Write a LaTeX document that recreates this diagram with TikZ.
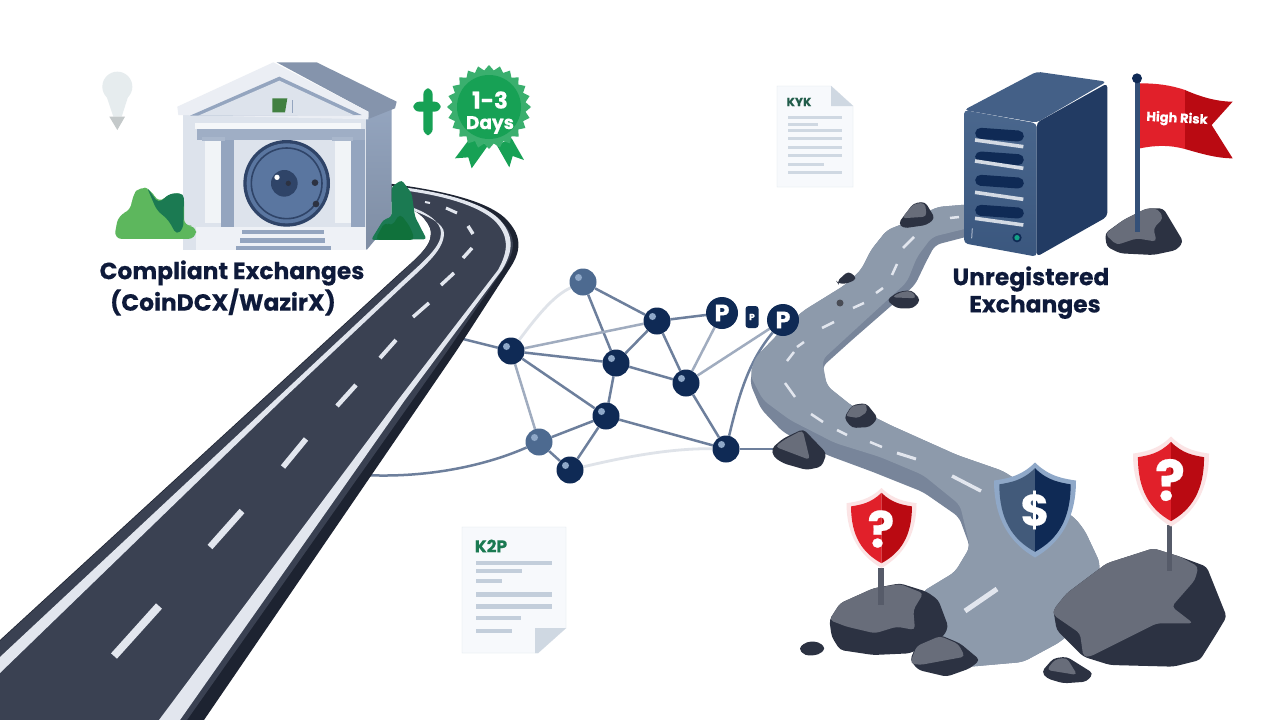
\documentclass[tikz,border=0pt]{standalone}
\usepackage{fontspec}
\setmainfont{Poppins}[BoldFeatures={FakeBold=0.35}]
\usepackage{xcolor}
\usepackage{tikz}
\usetikzlibrary{shapes,positioning,backgrounds,calc}
\definecolor{ink}{HTML}{0E1A3A}
\definecolor{asphalt}{HTML}{3A4152}
\definecolor{asphaltedge}{HTML}{1D2331}
\definecolor{paint}{HTML}{E2E6EE}
\definecolor{gravel}{HTML}{8D9AAB}
\definecolor{graveledge}{HTML}{78859A}
\definecolor{navy}{HTML}{0F2A55}
\definecolor{steel}{HTML}{4D6A90}
\definecolor{glint}{HTML}{8FA8C8}
\definecolor{linkcol}{HTML}{6D7F9C}
\definecolor{rockdark}{HTML}{2C3242}
\definecolor{rockgrey}{HTML}{686D7A}
\definecolor{badgegreen}{HTML}{17A155}
\definecolor{bushlight}{HTML}{5DB75D}
\definecolor{bushdark}{HTML}{1B7A52}
\definecolor{wall}{HTML}{DDE3EC}
\definecolor{wallblue}{HTML}{94A5BF}
\definecolor{vaultrim}{HTML}{2F4468}
\definecolor{vaultface}{HTML}{5A76A0}
\definecolor{bulbcol}{HTML}{E6ECEE}
\definecolor{redlight}{HTML}{E1202A}
\definecolor{reddark}{HTML}{BA0A12}
\definecolor{paper}{HTML}{F7F9FC}
\definecolor{paperline}{HTML}{C3CEDB}
\tikzstyle{ball} = [circle, fill=navy, minimum size=27pt, inner sep=0pt, path picture={\fill[glint] ($(path picture bounding box.center)+(-4.5,-4.5)$) circle (3.5);}]
\tikzstyle{paleball} = [ball, fill=steel]
\tikzstyle{pnode} = [circle, fill=navy, text=white, minimum size=32pt, inner sep=0pt, font=\bfseries\fontsize{24}{24}\selectfont]
\tikzstyle{link} = [linkcol, line width=2.5pt]
\tikzstyle{softlink} = [link, color=linkcol!65]
\tikzstyle{faintlink} = [link, color=linkcol!22, line width=2.8pt]
\tikzstyle{heading} = [text=ink, font=\bfseries\fontsize{23.4}{23.4}\selectfont, inner sep=0pt]
\tikzstyle{rock} = [fill=rockdark, rounded corners=4pt]
\tikzstyle{rocktop} = [fill=rockgrey, rounded corners=4pt]
\tikzstyle{zoomA} = [shift={(90,50)}, x=0.33333pt, y=-0.33333pt]
\tikzstyle{zoomC} = [shift={(770,60)}, x=0.33333pt, y=-0.33333pt]
\tikzstyle{zoomD} = [shift={(790,420)}, x=0.33333pt, y=-0.33333pt]
\newcommand{\shieldicon}[7]{
  \begin{scope}[shift={(#1,#2)}, x=#3pt, y=-#4pt]
    \fill[#5] (0,0) .. controls (.35,.15) and (.7,.17) .. (1,.19) .. controls (1,.6) and (.6,.85) .. (0,1) .. controls (-.6,.85) and (-1,.6) .. (-1,.19) .. controls (-.7,.17) and (-.35,.15) .. (0,0) -- cycle;
    \fill[#6] (0,.06) .. controls (-.3,.19) and (-.6,.21) .. (-.87,.23) .. controls (-.87,.6) and (-.55,.81) .. (0,.94) -- cycle;
    \fill[#7] (0,.06) .. controls (.3,.19) and (.6,.21) .. (.87,.23) .. controls (.87,.6) and (.55,.81) .. (0,.94) -- cycle;
  \end{scope}
}
\begin{document}
\begin{tikzpicture}[x=1pt, y=-1pt]
    \useasboundingbox (0,0) rectangle (1280,720);

    % Paved road
    \fill[asphaltedge] (0,640) -- (400,273) .. controls (420,255) and (435,243) .. (430,228) .. controls (425,215) and (410,205) .. (385,200) -- (385,183) .. controls (440,190) and (485,200) .. (505,218) .. controls (522,235) and (522,250) .. (510,268) -- (457,350) -- (204,720) -- (0,720) -- cycle;
    \fill[asphalt] (0,641) -- (400,274) .. controls (420,255) and (435,243) .. (430,228) .. controls (425,215) and (410,205) .. (385,200) -- (385,186) .. controls (440,193) and (482,203) .. (500,220) .. controls (517,236) and (516,250) .. (504,268) -- (448,350) -- (187,720) -- (0,720) -- cycle;
    \fill[paint] (392,186) .. controls (440,191) and (482,202) .. (499,219) .. controls (514,235) and (514,250) .. (502,270) -- (405,400) -- (180,720) -- (159,720) -- (398,400) -- (498,270) .. controls (509,250) and (509,236) .. (495,221) .. controls (478,205) and (440,194) .. (392,189) -- cycle;
    \fill[paint] (0,657) -- (275,400) -- (400,283) .. controls (425,260) and (441,247) .. (441,233) .. controls (441,222) and (428,212) .. (405,205) -- (405,208) .. controls (428,215) and (444,224) .. (444,233) .. controls (444,249) and (428,263) .. (403,286) -- (282,400) -- (0,673) -- cycle;
    \foreach \xa/\ya/\xb/\yb/\wd in {159/606/114/656/8, 242/511/210/547/6.5, 306/439/283/467/5.5, 356/385/337/406/4.5, 396/340/380/358/4, 429/303/413/317/3.5, 454/273/441/285/3.5, 472/248/463/258/3.5, 473/234/468/226/3.5, 457/213/446/208/3, 430/203/425/202/2}
        \draw[paint, line width=\wd pt] (\xa,\ya) -- (\xb,\yb);

    % Bank
    \begin{scope}[zoomA]
        \fill[wall] (280,195) rectangle (830,600);
        \shade[top color=wallblue, bottom color=wallblue!85!black] (830,205) -- (905,170) -- (905,510) -- (830,600) -- cycle;
        \fill[wallblue!90!black] (560,37) -- (680,37) -- (920,155) -- (915,175) -- (835,207) -- (835,185) -- cycle;
        \fill[wall!60!white] (262,170) -- (550,37) -- (835,185) -- (835,208) -- (265,195) -- cycle;
        \fill[wallblue] (300,197) -- (568,80) -- (815,195) -- cycle;
        \fill[wall] (325,197) -- (568,92) -- (795,197) -- cycle;
        \fill[white!70!wall] (315,218) rectangle (812,238);
        \fill[wallblue!90!white] (320,238) rectangle (825,270);
        \fill[wallblue] (392,270) rectangle (432,530);
        \fill[wallblue] (782,270) rectangle (825,530);
        \fill[wall] (432,272) rectangle (735,530);
        \fill[white!60!wall] (345,268) rectangle (392,520);
        \fill[white!60!wall] (735,268) rectangle (782,520);
        \fill[wallblue!80!white] (335,260) rectangle (405,272);
        \fill[wallblue!80!white] (725,260) rectangle (790,272);
        \fill[white!50!wall] (318,530) rectangle (828,600);
        \fill[wallblue] (455,540) rectangle (702,553);
        \fill[wallblue] (450,565) rectangle (705,578);
        \fill[wallblue] (437,587) rectangle (722,600);
        \fill[bushlight!70!black] (547,145) -- (592,145) -- (585,187) -- (547,187) -- cycle;
        \fill[wallblue] (605,150) rectangle (608,190);
        % Vault door
        \fill[vaultrim] (590,400) circle (130);
        \fill[vaultface] (590,400) circle (120);
        \draw[vaultrim, line width=1.6pt] (590,400) circle (106);
        \fill[vaultrim] (583,400) circle (40);
        \fill[white] (561,382) circle (8);
        \fill[rockdark] (595,400) circle (8);
        \fill[rockdark] (675,398) circle (10);
        \fill[rockdark] (678,462) circle (10);
        % Bushes
        \fill[bushlight, rounded corners=8pt] (72,567) -- (85,495) -- (125,480) -- (125,440) -- (150,408) -- (185,420) -- (205,460) -- (240,430) -- (282,430) -- (282,530) -- (318,525) -- (318,567) -- cycle;
        \fill[bushdark, rounded corners=5pt] (170,410) -- (205,460) -- (240,430) -- (282,430) -- (280,535) -- (260,555) -- (235,510) -- (200,480) -- cycle;
        \fill[bushdark, rounded corners=3pt] (905,410) -- (935,390) -- (965,430) -- (975,500) -- (1010,568) -- (843,570) -- (880,510) -- (905,500) -- cycle;
        \fill[badgegreen!70!black, rounded corners=5pt] (855,570) -- (885,515) -- (905,530) -- (930,490) -- (960,530) -- (975,570) -- cycle;
        % Bulb
        \fill[bulbcol] (82,110) circle (45);
        \fill[bulbcol] (45,125) -- (119,125) -- (95,200) -- (70,200) -- cycle;
        \fill[bulbcol!85!black] (58,200) -- (105,200) -- (82,240) -- cycle;
        % Badge
        \fill[badgegreen, rounded corners=6pt] (1000,115) rectangle (1028,255);
        \fill[badgegreen, rounded corners=6pt] (970,155) rectangle (1052,185);
        \fill[badgegreen] (1140,265) -- (1095,325) -- (1135,322) -- (1145,355) -- (1195,285) -- cycle;
        \fill[badgegreen] (1220,285) -- (1258,352) -- (1268,318) -- (1302,330) -- (1265,265) -- cycle;
    \end{scope}
    \node[star, star points=24, star point ratio=1.14, fill=badgegreen!85!white, minimum size=84pt, inner sep=0pt] (seal) at (489,107) {};
    \node[circle, fill=badgegreen, minimum size=64pt, inner sep=0pt] (sealface) at (489,107) {};
    \node[text=white, font=\bfseries\fontsize{23}{23}\selectfont, inner sep=0pt] (sealnum) at (490,100) {1-3};
    \node[text=white, font=\bfseries\fontsize{18.5}{18.5}\selectfont, inner sep=0pt] (sealdays) at (490,125) {Days};
    \node[heading] (bankname) at (232,273) {Compliant Exchanges};
    \node[heading] (banktype) at (223,302) {(CoinDCX/WazirX)};

    % Gravel road
    \fill[graveledge, rounded corners=6pt] (985,203) -- (937,207) -- (913,220) -- (887,230) -- (871,250) -- (861,270) -- (845,285) -- (803,311) -- (781,331) -- (755,358) -- (750,383) -- (761,409) -- (783,432) -- (827,455) -- (873,472) -- (923,492) -- (959,517) -- (970,547) -- (955,572) -- (922,592) -- (955,668) -- (1023,662) -- (1060,642) -- (1094,612) -- (1100,563) -- (1085,531) -- (1075,518) -- (1003,471) -- (957,455) -- (890,425) -- (852,406) -- (827,386) -- (822,367) -- (852,340) -- (915,285) -- (926,262) -- (935,245) -- (985,232) -- cycle;
    \fill[gravel, rounded corners=6pt] (985,203) -- (937,207) -- (913,220) -- (887,230) -- (871,250) -- (861,270) -- (845,285) -- (803,311) -- (781,331) -- (755,358) -- (750,375) -- (763,400) -- (790,420) -- (835,443) -- (880,457) -- (923,475) -- (960,505) -- (970,547) -- (955,572) -- (922,592) -- (955,668) -- (1023,662) -- (1060,642) -- (1094,612) -- (1100,563) -- (1085,531) -- (1075,518) -- (1003,471) -- (957,455) -- (890,425) -- (852,406) -- (827,386) -- (822,360) -- (847,337) -- (907,282) -- (917,257) -- (932,237) -- (985,224) -- cycle;
    \foreach \xa/\ya/\xb/\yb/\wd in {950/218/959/217/2.5, 903/248/914/237/2.5, 892/275/897/264/2.5, 876/293/883/288/2.5, 853/308/864/303/2.5, 822/328/834/322/2.5, 797/347/804/342/2.5, 787/361/794/352/2.5, 785/383/795/397/2.5, 811/414/823/422/2.5, 837/430/847/435/2.5, 870/442/882/447/2.5, 897/453/916/459/3, 952/476/981/491/3.5, 965/611/997/589/5}
        \draw[paint, line width=\wd pt] (\xa,\ya) -- (\xb,\yb);
    \fill[rockgrey!70!black] (840,303) circle (3.5);
    \fill[rock] (844,418) -- (852,405) -- (866,403) -- (878,418) -- (870,427) -- (852,428) -- cycle;
    \fill[rocktop, rounded corners=2pt] (846,416) -- (852,406) -- (866,404) -- (867,412) -- (858,418) -- cycle;

    % Upper rocks, server and flag
    \begin{scope}[zoomC]
        \fill[rock] (385,490) -- (430,430) -- (465,425) -- (495,475) -- (470,495) -- (400,505) -- cycle;
        \fill[rocktop] (395,475) -- (430,432) -- (465,428) -- (470,470) -- cycle;
        \fill[rock] (200,665) -- (235,633) -- (262,655) -- (235,670) -- (205,672) -- cycle;
        \fill[rock] (350,720) -- (385,695) -- (425,690) -- (452,720) -- (430,745) -- (380,745) -- cycle;
        \fill[rocktop] (365,712) -- (390,697) -- (425,692) -- (440,715) -- cycle;
        \shade[top color=steel!95!navy, bottom color=steel!70!navy, rounded corners=4pt] (582,150) -- (800,190) -- (800,590) -- (582,550) -- cycle;
        \fill[steel!85!navy, rounded corners=4pt] (582,150) -- (800,35) -- (1010,65) -- (800,188) -- cycle;
        \fill[navy!92!white, rounded corners=4pt] (800,188) -- (1012,70) -- (1012,470) -- (800,590) -- cycle;
        \foreach \ya/\yb/\yc in {224/240/260, 295/303/325, 365/397/418, 455/475/495} {
            \draw[navy, line width=11pt, line cap=round] (632,\ya-4) -- (745,\ya+4);
            \draw[paint!90!steel, line width=3.6pt] (615,\yb) -- (760,\yc);
        }
        \fill[navy] (741,533) circle (14);
        \fill[bushdark!70!cyan] (741,533) circle (8);
        \draw[paint!60!steel, line width=1pt] (607,505) -- (605,535);
        % Flag
        \fill[rock] (1005,520) -- (1060,480) -- (1130,445) -- (1180,445) -- (1240,545) -- (1220,570) -- (1150,585) -- (1050,580) -- (1010,560) -- cycle;
        \fill[rocktop] (1005,522) -- (1060,480) -- (1130,445) -- (1165,447) -- (1180,475) -- (1150,505) -- (1160,545) -- (1100,535) -- (1040,555) -- cycle;
        \fill[redlight] (1110,70) .. controls (1160,70) and (1200,75) .. (1245,90) -- (1245,267) .. controls (1200,255) and (1160,255) .. (1110,265) -- cycle;
        \fill[reddark] (1245,90) .. controls (1290,110) and (1340,125) .. (1388,125) -- (1325,195) -- (1388,295) .. controls (1340,295) and (1290,280) .. (1245,267) -- cycle;
        \draw[steel!60!navy, line width=5pt] (1103,55) -- (1103,515);
        \fill[navy] (1101,55) circle (15);
    \end{scope}
    \node[text=white, font=\bfseries\fontsize{13}{13}\selectfont, inner sep=0pt, rotate=-3] (flagtext) at (1177,119) {High Risk};
    \node[heading] (srvname) at (1031,279) {Unregistered};
    \node[heading] (srvtype) at (1035,307) {Exchanges};

    % Lower rocks and shields
    \begin{scope}[zoomD]
        \fill[rock] (118,600) -- (150,550) -- (250,505) -- (330,490) -- (410,515) -- (445,540) -- (475,620) -- (460,650) -- (360,700) -- (250,705) -- (150,690) -- (125,650) -- cycle;
        \fill[rocktop] (118,600) -- (150,550) -- (250,505) -- (330,492) -- (400,520) -- (370,570) -- (375,630) -- (320,620) -- (255,640) -- (170,620) -- cycle;
        \fill[rockgrey!70!rockdark] (264,445) rectangle (282,555);
        \fill[rock] (360,720) -- (380,675) -- (450,645) -- (510,670) -- (570,720) -- (540,745) -- (470,770) -- (385,750) -- cycle;
        \fill[rocktop] (360,730) -- (380,678) -- (450,648) -- (505,672) -- (525,710) -- (390,735) -- cycle;
        \fill[rock] (790,570) -- (830,520) -- (950,430) -- (1090,385) -- (1170,410) -- (1250,440) -- (1310,590) -- (1280,640) -- (1230,720) -- (1150,740) -- (960,735) -- (880,710) -- (800,630) -- cycle;
        \fill[rocktop] (790,570) -- (830,520) -- (950,430) -- (1090,385) -- (1170,410) -- (1225,440) -- (1215,480) -- (1145,560) -- (1210,610) -- (1100,610) -- (900,710) -- (880,710) -- (870,640) -- (790,585) -- cycle;
        \fill[rockgrey!70!rockdark] (1130,315) rectangle (1146,452);
        \fill[rock] (25,685) -- (50,665) -- (85,665) -- (108,685) -- (85,705) -- (45,707) -- cycle;
        \fill[rock] (755,755) -- (790,715) -- (830,710) -- (910,760) -- (890,785) -- (820,790) -- (770,775) -- cycle;
        \fill[rocktop] (770,750) -- (795,718) -- (830,713) -- (862,765) -- cycle;
    \end{scope}
    \shieldicon{881.5}{488}{35}{80}{redlight!12!white}{redlight}{reddark}
    \shieldicon{1171}{436.5}{38}{90}{redlight!12!white}{redlight}{reddark}
    \shieldicon{1035}{462.5}{41}{95}{glint}{steel!85!black}{navy}
    \node[text=white, font=\bfseries\fontsize{50}{50}\selectfont, inner sep=0pt] (askleft) at (881,529) {?};
    \node[text=white, font=\bfseries\fontsize{56}{56}\selectfont, inner sep=0pt] (askright) at (1170,480) {?};
    \node[text=white, font=\bfseries\fontsize{44}{44}\selectfont, inner sep=0pt] (dollar) at (1035,510) {\$};

    % Documents
    \fill[paper, draw=paperline!60!white] (777,86) -- (831,86) -- (853,106) -- (853,187) -- (777,187) -- cycle;
    \fill[paperline!80!white] (831,86) -- (853,106) -- (831,106) -- cycle;
    \node[text=bushdark!60!rockdark, font=\bfseries\fontsize{12}{12}\selectfont, inner sep=0pt] (kyk) at (799,102) {KYK};
    \foreach \yy/\xx in {117/842, 124/818, 130/842, 138/842, 147/842, 155/842, 164/824, 172/842}
        \draw[paperline!80!white, line width=3pt] (788,\yy) -- (\xx,\yy);
    \fill[paper, draw=paperline!60!white] (462,527) -- (566,527) -- (566,628) -- (538,653) -- (462,653) -- cycle;
    \fill[paperline!80!white] (535,628) -- (566,628) -- (538,653) -- (535,653) -- cycle;
    \node[text=bushdark, font=\bfseries\fontsize{17}{17}\selectfont, inner sep=0pt] (ktwop) at (491,546) {K2P};
    \foreach \yy/\xx/\wd in {563/552/3.5, 571/522/3.5, 581/502/3.5, 594/552/5, 606/552/5, 618/521/4.5, 631/512/4.5}
        \draw[paperline, line width=\wd pt] (476,\yy) -- (\xx,\yy);

    % Rock beside the network
    \begin{scope}[shift={(450,250)}, x=0.33333pt, y=-0.33333pt]
        \fill[rock] (965,595) -- (1000,565) -- (1060,537) -- (1130,610) -- (1115,650) -- (1070,660) -- (1000,640) -- (970,620) -- cycle;
        \fill[rocktop] (975,590) -- (1005,568) -- (1058,540) -- (1080,630) -- cycle;
    \end{scope}

    % Network
    \node[paleball] (nodeA) at (583,282) {};
    \node[ball] (nodeB) at (511,351) {};
    \node[ball] (nodeC) at (657,321) {};
    \node[ball] (nodeD) at (616,363) {};
    \node[ball] (nodeE) at (686,383) {};
    \node[ball] (nodeF) at (606,416) {};
    \node[paleball] (nodeG) at (539,442) {};
    \node[ball] (nodeH) at (570,470) {};
    \node[ball] (nodeI) at (726,449) {};
    \node[pnode] (peerA) at (722,313) {P};
    \node[fill=navy, text=white, rounded corners=3pt, minimum width=13pt, minimum height=22pt, inner sep=0pt, font=\bfseries\fontsize{9}{9}\selectfont] (peerB) at (752,317) {P};
    \node[pnode] (peerC) at (783,320) {P};
    \coordinate (tapA) at (459,338);
    \coordinate (tapB) at (364,475);
    \coordinate (tapC) at (790,449);

    % Links
    \begin{scope}[on background layer]
        \fill[white] (0,0) rectangle (1280,720);
        \draw[link] (nodeA) -- (nodeC);
        \draw[link] (nodeA) -- (nodeD);
        \draw[softlink] (nodeB) -- (nodeC);
        \draw[link] (nodeB) -- (nodeD);
        \draw[link] (nodeB) -- (nodeF);
        \draw[softlink] (nodeB) -- (nodeG);
        \draw[link] (nodeC) -- (nodeD);
        \draw[link] (nodeC) -- (nodeE);
        \draw[link] (nodeC) -- (peerA);
        \draw[link] (nodeD) -- (nodeE);
        \draw[link] (nodeD) -- (nodeF);
        \draw[softlink] (nodeE) -- (peerA);
        \draw[softlink] (nodeE) -- (peerC);
        \draw[link] (nodeE) -- (nodeI);
        \draw[link] (nodeF) -- (nodeG);
        \draw[link] (nodeF) -- (nodeH);
        \draw[link] (nodeF) -- (nodeI);
        \draw[link] (nodeG) -- (nodeH);
        \draw[link] (nodeI) -- (tapC);
        \draw[link] (nodeB) -- (tapA);
        \draw[link] (nodeI) .. controls (740,390) and (750,360) .. (peerC);
        \draw[link] (nodeG) .. controls (480,468) and (420,478) .. (tapB);
        \draw[faintlink] (nodeB) .. controls (540,312) and (555,295) .. (nodeA);
        \draw[faintlink] (nodeH) .. controls (620,458) and (670,448) .. (nodeI);
    \end{scope}
\end{tikzpicture}
\end{document}
